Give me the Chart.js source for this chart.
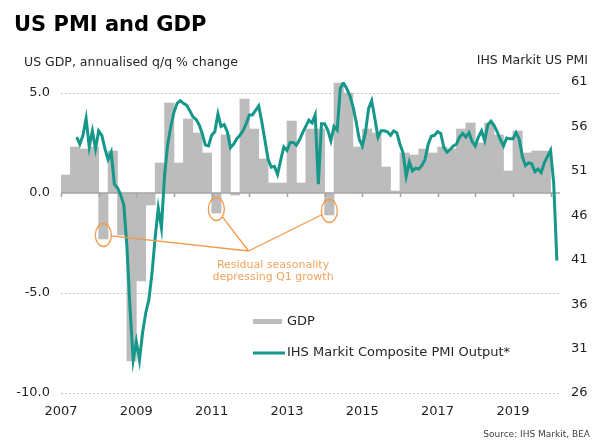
<!DOCTYPE html>
<html>
<head>
<meta charset="utf-8">
<title>US PMI and GDP</title>
<script src="https://cdn.jsdelivr.net/npm/chart.js@4.4.1/dist/chart.umd.min.js"></script>
<style>
  html, body { margin: 0; padding: 0; background: #fff; }
  #wrap { position: relative; width: 593px; height: 441px; }
</style>
</head>
<body>
<div id="wrap"><canvas id="chart" width="593" height="441"></canvas></div>
<script>
// Quarterly US GDP, annualised q/q % change (2007Q1 - 2019Q4)
const gdpQuarters = [
    '2007Q1', '2007Q2', '2007Q3', '2007Q4', '2008Q1', '2008Q2', '2008Q3', '2008Q4',
    '2009Q1', '2009Q2', '2009Q3', '2009Q4', '2010Q1', '2010Q2', '2010Q3', '2010Q4',
    '2011Q1', '2011Q2', '2011Q3', '2011Q4', '2012Q1', '2012Q2', '2012Q3', '2012Q4',
    '2013Q1', '2013Q2', '2013Q3', '2013Q4', '2014Q1', '2014Q2', '2014Q3', '2014Q4',
    '2015Q1', '2015Q2', '2015Q3', '2015Q4', '2016Q1', '2016Q2', '2016Q3', '2016Q4',
    '2017Q1', '2017Q2', '2017Q3', '2017Q4', '2018Q1', '2018Q2', '2018Q3', '2018Q4',
    '2019Q1', '2019Q2', '2019Q3', '2019Q4'
];
const gdpValues = [
    0.9, 2.3, 2.2, 2.3, -2.3, 2.1, -2.1, -8.4,
    -4.4, -0.6, 1.5, 4.5, 1.5, 3.7, 3.0, 2.0,
    -1.0, 2.9, -0.1, 4.7, 3.2, 1.7, 0.5, 0.5,
    3.6, 0.5, 3.2, 3.2, -1.1, 5.5, 5.0, 2.3,
    3.2, 3.0, 1.3, 0.1, 2.0, 1.9, 2.2, 2.0,
    2.3, 2.2, 3.2, 3.5, 2.5, 3.5, 2.9, 1.1,
    3.1, 2.0, 2.1, 2.1
];

// Monthly IHS Markit composite PMI output, starting June 2007, ending March 2020
const pmiFirstMonth = { year: 2007, month: 6 };
const pmiValues = [
    54.8, 54.0, 55.0, 56.9, 53.7, 55.5, 53.5,                                  // 2007 Jun-Dec
    55.5, 55.0, 53.5, 52.3, 53.1, 49.5, 49.1, 48.3, 47.2, 42.5, 35.5, 29.7,    // 2008
    31.8, 29.7, 32.8, 35.0, 36.5, 39.5, 43.5, 46.8, 44.6, 50.5, 54.0, 56.0,    // 2009
    57.6, 58.6, 58.9, 58.6, 58.4, 57.8, 57.1, 56.8, 56.2, 55.2, 53.9, 53.8,    // 2010
    55.0, 55.4, 57.4, 56.0, 56.2, 55.4, 53.6, 54.0, 54.6, 55.0, 55.5, 56.3,    // 2011
    57.3, 57.3, 57.8, 58.3, 56.5, 54.4, 52.3, 51.4, 51.5, 50.6, 52.2, 53.7,    // 2012
    53.3, 54.2, 54.2, 53.9, 54.5, 55.3, 56.0, 56.7, 56.4, 57.3, 49.5, 56.3,    // 2013
    56.3, 55.6, 54.4, 56.0, 55.6, 60.3, 60.9, 60.3, 59.5, 58.3, 56.6, 54.6,    // 2014
    53.8, 55.3, 58.0, 58.9, 56.9, 54.8, 55.5, 55.5, 55.4, 55.0, 55.5, 55.3,    // 2015
    54.0, 53.0, 50.4, 52.0, 51.0, 51.3, 51.2, 51.6, 52.3, 54.0, 54.9, 55.0,    // 2016
    55.4, 55.2, 53.6, 53.1, 53.4, 53.8, 54.0, 54.8, 55.2, 54.8, 55.3, 54.3,    // 2017
    53.8, 54.8, 55.5, 54.4, 56.2, 56.6, 56.1, 55.4, 54.5, 53.8, 54.7, 54.6,    // 2018
    54.6, 55.3, 54.6, 52.6, 51.6, 51.9, 51.8, 50.9, 51.2, 50.8, 51.9, 52.6,    // 2019
    53.3, 49.6, 40.9                                                           // 2020 Jan-Mar
];

// Axis ticks
const yearLabels = ['2007', '2009', '2011', '2013', '2015', '2017', '2019'];
const gdpTicks = [-10, -5, 0, 5];
const pmiTicks = [26, 31, 36, 41, 46, 51, 56, 61];

// Annotation
const annotatedQuarters = ['2008Q1', '2011Q1', '2014Q1'];
const noteLines = ['Residual seasonality', 'depressing Q1 growth'];

const FONT = "'DejaVu Sans', sans-serif";
const TEAL = '#15978a';
const GREY = '#bcbcbc';
const ORANGE = '#f29a4a';

function quarterToYear(q) {
    return parseInt(q.slice(0, 4), 10) + (parseInt(q.slice(5), 10) - 0.5) / 4;
}

const gdpData = gdpQuarters.map((q, i) => ({ x: quarterToYear(q), y: gdpValues[i] }));
const pmiData = pmiValues.map((v, i) => ({
    x: pmiFirstMonth.year + (pmiFirstMonth.month - 1 + i) / 12,
    y: v
}));

// Extra drawing: zero axis, annotation, titles and legend
const decor = {
    id: 'decor',
    beforeDatasetDraw(chart, args) {
        if (args.index !== 1) return; // after the bars, before the PMI line
        const { ctx, chartArea: a, scales: { x, y } } = chart;
        const y0 = y.getPixelForValue(0);
        ctx.save();
        ctx.strokeStyle = '#a3a3a3';
        ctx.lineWidth = 1.5;
        ctx.beginPath();
        ctx.moveTo(a.left, y0);
        ctx.lineTo(a.right, y0);
        x.ticks.forEach(t => {
            const px = Math.round(x.getPixelForValue(t.value)) + 0.5;
            ctx.moveTo(px, y0);
            ctx.lineTo(px, y0 + 4);
        });
        ctx.stroke();
        ctx.restore();
    },
    afterDatasetsDraw(chart) {
        const { ctx, scales: { x, y } } = chart;
        const target = { x: x.getPixelForValue(2011.98), y: y.getPixelForValue(-2.9) };
        ctx.save();
        ctx.strokeStyle = ORANGE;
        ctx.lineWidth = 1.3;
        annotatedQuarters.forEach(q => {
            const i = gdpQuarters.indexOf(q);
            const cx = x.getPixelForValue(quarterToYear(q));
            const cy = y.getPixelForValue(gdpValues[i]) - 4;
            const rx = 8, ry = 11.5;
            ctx.beginPath();
            ctx.ellipse(cx, cy, rx, ry, 0, 0, Math.PI * 2);
            ctx.stroke();
            const ang = Math.atan2((target.y - cy) / ry, (target.x - cx) / rx);
            ctx.beginPath();
            ctx.moveTo(cx + rx * Math.cos(ang), cy + ry * Math.sin(ang));
            ctx.lineTo(target.x, target.y);
            ctx.stroke();
        });
        ctx.fillStyle = '#f3a35c';
        ctx.font = '11px ' + FONT;
        ctx.textAlign = 'center';
        ctx.textBaseline = 'alphabetic';
        const tx = x.getPixelForValue(2012.63);
        const ty = y.getPixelForValue(-3.75);
        noteLines.forEach((line, k) => ctx.fillText(line, tx, ty + k * 11.5));
        ctx.restore();
    },
    afterDraw(chart) {
        const { ctx, chartArea: a } = chart;
        ctx.save();
        ctx.textBaseline = 'alphabetic';
        ctx.fillStyle = '#000';
        ctx.font = 'bold 21px ' + FONT;
        ctx.fillText('US PMI and GDP', 14, 31);

        ctx.fillStyle = '#262626';
        ctx.font = '12.5px ' + FONT;
        ctx.fillText('US GDP, annualised q/q % change', 24, 65.5);
        ctx.textAlign = 'right';
        ctx.fillText('IHS Markit US PMI', 588, 63.5);

        ctx.fillStyle = '#404040';
        ctx.font = '9px ' + FONT;
        ctx.fillText('Source: IHS Markit, BEA', 590, 437);

        // legend
        const ds = chart.data.datasets;
        const lx = a.left + 192;
        ctx.textAlign = 'left';
        ctx.textBaseline = 'middle';
        ctx.font = '13px ' + FONT;
        ctx.fillStyle = ds[0].backgroundColor;
        ctx.fillRect(lx, a.top + 237, 29, 5);
        ctx.fillStyle = '#262626';
        ctx.fillText(ds[0].label, lx + 34, a.top + 240);
        ctx.strokeStyle = ds[1].borderColor;
        ctx.lineWidth = 3;
        ctx.beginPath();
        ctx.moveTo(lx, a.top + 271);
        ctx.lineTo(lx + 32, a.top + 271);
        ctx.stroke();
        ctx.fillText(ds[1].label, lx + 34, a.top + 271);
        ctx.restore();
    }
};

Chart.defaults.font.family = FONT;
Chart.defaults.font.size = 13;
Chart.defaults.color = '#1f1f1f';

new Chart(document.getElementById('chart'), {
    type: 'bar',
    data: {
        datasets: [{
            type: 'bar',
            label: 'GDP',
            data: gdpData,
            xAxisID: 'x',
            yAxisID: 'y',
            backgroundColor: GREY,
            borderWidth: 0,
            categoryPercentage: 1,
            barPercentage: 1,
            order: 2
        }, {
            type: 'line',
            label: 'IHS Markit Composite PMI Output*',
            data: pmiData,
            xAxisID: 'x',
            yAxisID: 'y2',
            borderColor: TEAL,
            borderWidth: 3,
            pointRadius: 0,
            tension: 0,
            order: 1
        }]
    },
    options: {
        responsive: false,
        animation: false,
        layout: { padding: { top: 82, left: 0, right: 0, bottom: 0 } },
        plugins: {
            legend: { display: false },
            tooltip: { enabled: false }
        },
        scales: {
            x: {
                type: 'linear',
                min: 2007,
                max: 2020.25,
                offset: false,
                grid: { display: false, drawTicks: false },
                border: { display: false },
                ticks: {
                    stepSize: 1,
                    includeBounds: false,
                    autoSkip: false,
                    maxRotation: 0,
                    padding: 11,
                    callback: v => yearLabels.includes(String(v)) ? String(v) : ''
                },
                afterFit: s => { s.height = 48; }
            },
            y: {
                position: 'left',
                min: -10,
                max: 5.55,
                afterBuildTicks: s => { s.ticks = gdpTicks.map(v => ({ value: v })); },
                ticks: { padding: 11, callback: v => Number(v).toFixed(1) },
                grid: {
                    drawTicks: false,
                    lineWidth: 1,
                    color: c => (c.tick && c.tick.value === 0) ? 'rgba(0,0,0,0)' : '#c4c4c4'
                },
                border: { display: false, dash: [2, 2] },
                afterFit: s => { s.width = 61; }
            },
            y2: {
                position: 'right',
                min: 26,
                max: 61,
                afterBuildTicks: s => { s.ticks = pmiTicks.map(v => ({ value: v })); },
                ticks: { padding: 11 },
                grid: { display: false, drawTicks: false },
                border: { display: false },
                afterFit: s => { s.width = 33; }
            }
        }
    },
    plugins: [decor]
});
</script>
</body>
</html>
